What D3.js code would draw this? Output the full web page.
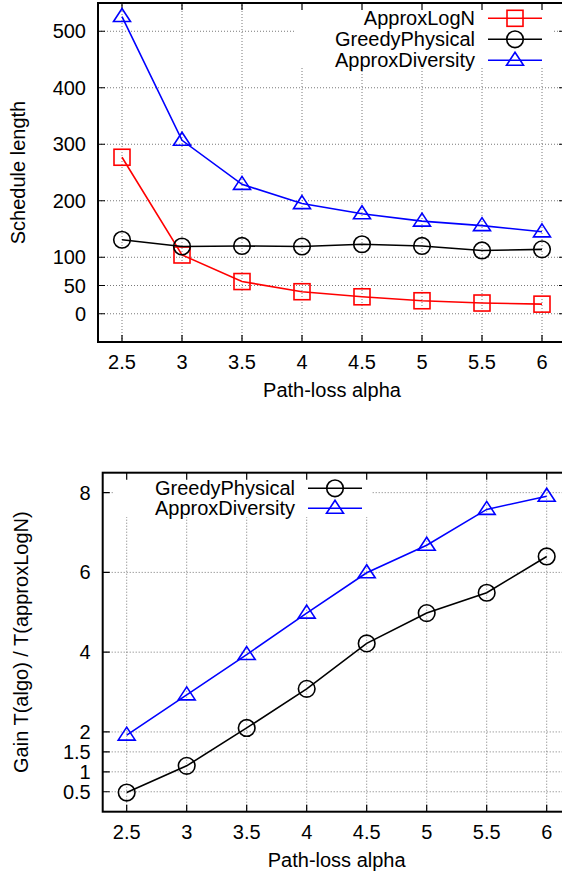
<!DOCTYPE html>
<html>
<head>
<meta charset="utf-8">
<script src="https://cdn.jsdelivr.net/npm/d3@7"></script>
<style>
  body { margin: 0; background: #fff; }
  svg { display: block; font-family: "Liberation Sans", Arial, sans-serif; }
</style>
</head>
<body>
<svg id="chart"></svg>
<script>
const width = 562, height = 875;

// Path-loss alpha values (shared x axis)
const alphas = [2.5, 3, 3.5, 4, 4.5, 5, 5.5, 6];

// Top panel: schedule length
const schedApproxLogN = [277, 104, 57, 39, 30, 23, 19, 17];
const schedGreedyPhysical = [131, 119, 120, 119, 123, 120, 112, 114];
const schedApproxDiversity = [526, 307, 229, 195, 177, 164, 156, 145];
const schedTicks = [0, 50, 100, 200, 300, 400, 500];

// Bottom panel: gain relative to ApproxLogN
const gainGreedyPhysical = [0.48, 1.15, 2.1, 3.08, 4.22, 4.98, 5.49, 6.4];
const gainApproxDiversity = [1.92, 2.93, 3.94, 4.98, 5.99, 6.68, 7.58, 7.91];
const gainTicks = [0.5, 1, 1.5, 2, 4, 6, 8];

const svg = d3.select("#chart")
    .attr("width", width)
    .attr("height", height);

// Marker shapes, drawn centred on (0,0)
function drawMarker(sel, shape, color) {
    if (shape === "square") {
        sel.append("rect")
            .attr("x", -8).attr("y", -8)
            .attr("width", 16).attr("height", 16);
    } else if (shape === "circle") {
        sel.append("circle").attr("r", 8.3);
    } else {
        sel.append("path").attr("d", "M0,-8L8.5,5L-8.5,5Z");
    }
    sel.selectAll("*")
        .attr("fill", "none")
        .attr("stroke", color)
        .attr("stroke-width", 1.6);
}

function drawPanel(p) {
    const x = d3.scaleLinear().domain([2.3, 6.2]).range([p.left, p.left + 468]);
    const y = d3.scaleLinear().domain(p.yDomain).range([p.bottom, p.top]);
    const g = svg.append("g");
    const right = p.left + 468;

    // Grid
    g.append("g").selectAll("line")
        .data(p.yTicks)
        .join("line")
        .attr("x1", p.left).attr("x2", right)
        .attr("y1", d => y(d)).attr("y2", d => y(d))
        .attr("stroke", "#555").attr("stroke-width", 0.8)
        .attr("stroke-dasharray", "1,2");
    g.append("g").selectAll("line")
        .data(alphas)
        .join("line")
        .attr("x1", d => x(d)).attr("x2", d => x(d))
        .attr("y1", p.bottom).attr("y2", p.top)
        .attr("stroke", "#555").attr("stroke-width", 0.8)
        .attr("stroke-dasharray", "1,2");

    // Legend background hides the grid
    g.append("rect")
        .attr("x", p.legend.bg[0]).attr("y", p.top + 1)
        .attr("width", p.legend.bg[1] - p.legend.bg[0])
        .attr("height", p.legend.bg[2] - p.top - 1)
        .attr("fill", "#fff");

    // Tick marks on all sides (inward)
    g.append("g").selectAll("path")
        .data(alphas)
        .join("path")
        .attr("d", d => `M${x(d)},${p.bottom}v-7M${x(d)},${p.top}v7`)
        .attr("stroke", "#000").attr("stroke-width", 1.2);
    g.append("g").selectAll("path")
        .data(p.yTicks)
        .join("path")
        .attr("d", d => `M${p.left},${y(d)}h7M${right},${y(d)}h-7`)
        .attr("stroke", "#000").attr("stroke-width", 1.2);

    // Frame
    g.append("rect")
        .attr("x", p.left).attr("y", p.top)
        .attr("width", right - p.left).attr("height", p.bottom - p.top)
        .attr("fill", "none").attr("stroke", "#000").attr("stroke-width", 2);

    // Tick labels
    g.append("g").selectAll("text")
        .data(alphas)
        .join("text")
        .attr("x", d => x(d)).attr("y", p.bottom + 27)
        .attr("text-anchor", "middle").attr("font-size", 20)
        .text(d => d);
    g.append("g").selectAll("text")
        .data(p.yTicks)
        .join("text")
        .attr("x", p.left - 12).attr("y", d => y(d) + 7)
        .attr("text-anchor", "end").attr("font-size", 20)
        .text(d => d);

    // Axis titles
    g.append("text")
        .attr("x", (p.left + right) / 2).attr("y", p.bottom + 55)
        .attr("text-anchor", "middle").attr("font-size", 20)
        .text("Path-loss alpha");
    g.append("text")
        .attr("transform", `translate(${p.yLabelX},${(p.top + p.bottom) / 2}) rotate(-90)`)
        .attr("text-anchor", "middle").attr("font-size", 20)
        .text(p.yLabel);

    // Series
    const line = d3.line().x(d => x(d[0])).y(d => y(d[1]));
    p.series.forEach((s, i) => {
        const pts = alphas.map((a, j) => [a, s.values[j]]);
        g.append("path")
            .attr("d", line(pts))
            .attr("fill", "none")
            .attr("stroke", s.color)
            .attr("stroke-width", 1.6);
        pts.forEach(pt => {
            drawMarker(g.append("g").attr("transform", `translate(${x(pt[0])},${y(pt[1])})`), s.shape, s.color);
        });

        // Legend entry
        const ly = p.legend.y0 + i * p.legend.dy;
        g.append("text")
            .attr("x", p.legend.textX).attr("y", ly + 7)
            .attr("text-anchor", "end").attr("font-size", 20)
            .text(s.name);
        g.append("line")
            .attr("x1", p.legend.lineX).attr("x2", p.legend.lineX + 54)
            .attr("y1", ly).attr("y2", ly)
            .attr("stroke", s.color).attr("stroke-width", 1.6);
        drawMarker(g.append("g").attr("transform", `translate(${p.legend.lineX + 27},${ly})`), s.shape, s.color);
    });
}

drawPanel({
    left: 98, top: 3, bottom: 342,
    yDomain: [-50, 550],
    yTicks: schedTicks,
    yLabel: "Schedule length",
    yLabelX: 25,
    legend: { bg: [295, 553, 68], textX: 475, lineX: 488, y0: 18.3, dy: 21 },
    series: [
        { name: "ApproxLogN", values: schedApproxLogN, color: "#ff0000", shape: "square" },
        { name: "GreedyPhysical", values: schedGreedyPhysical, color: "#000000", shape: "circle" },
        { name: "ApproxDiversity", values: schedApproxDiversity, color: "#0000ff", shape: "triangle" }
    ]
});

drawPanel({
    left: 102.7, top: 472.7, bottom: 811.7,
    yDomain: [0, 8.5],
    yTicks: gainTicks,
    yLabel: "Gain T(algo) / T(approxLogN)",
    yLabelX: 28,
    legend: { bg: [113, 372, 517], textX: 295, lineX: 308, y0: 488.3, dy: 20 },
    series: [
        { name: "GreedyPhysical", values: gainGreedyPhysical, color: "#000000", shape: "circle" },
        { name: "ApproxDiversity", values: gainApproxDiversity, color: "#0000ff", shape: "triangle" }
    ]
});
</script>
</body>
</html>
